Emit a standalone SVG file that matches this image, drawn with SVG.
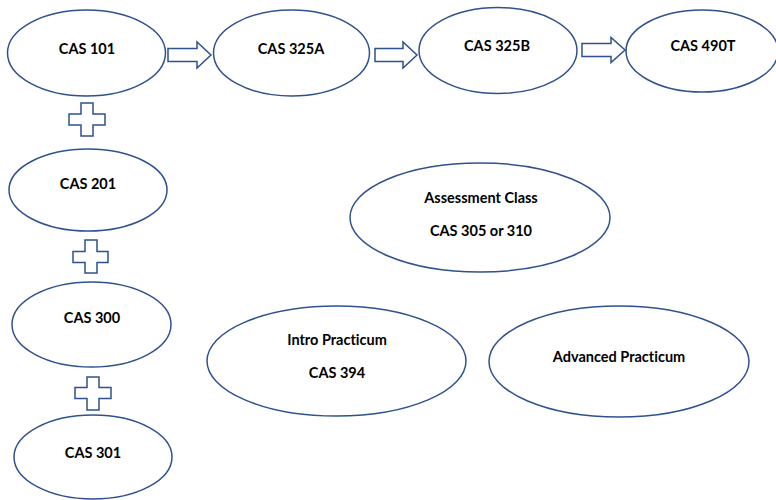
<svg xmlns="http://www.w3.org/2000/svg" width="776" height="500" viewBox="0 0 776 500">
<style>
.n{fill:#fff;stroke:#2F528F;stroke-width:1.5}
.c{fill:#fff;stroke:#2F528F;stroke-width:1.5;stroke-linejoin:miter}
text{font-family:Lato,"Liberation Sans",sans-serif;font-weight:bold;font-size:14.5px;fill:#000;text-anchor:middle;dominant-baseline:central;font-variant-ligatures:none}
</style>
<rect width="776" height="500" fill="#fff"/>
<g id="cas101"><ellipse class="n" cx="86.5" cy="53" rx="79" ry="43"/><text x="87" y="48">CAS 101</text></g>
<g id="cas325a"><ellipse class="n" cx="291.5" cy="53" rx="78" ry="43"/><text x="291" y="48">CAS 325A</text></g>
<g id="cas325b"><ellipse class="n" cx="498" cy="50.5" rx="79" ry="43"/><text x="497" y="45">CAS 325B</text></g>
<g id="cas490t"><ellipse class="n" cx="702" cy="51" rx="76" ry="41"/><text x="703" y="45">CAS 490T</text></g>
<g id="cas201"><ellipse class="n" cx="88" cy="190" rx="79" ry="41"/><text x="88" y="183">CAS 201</text></g>
<g id="cas300"><ellipse class="n" cx="91.5" cy="324.5" rx="79.5" ry="42.5"/><text x="92" y="317">CAS 300</text></g>
<g id="cas301"><ellipse class="n" cx="93" cy="457" rx="79" ry="42"/><text x="93" y="452">CAS 301</text></g>
<g id="assessment"><ellipse class="n" cx="480" cy="217.5" rx="130" ry="54.5"/><text x="481" y="197">Assessment Class</text><text x="481" y="230">CAS 305 or 310</text></g>
<g id="intro"><ellipse class="n" cx="336.5" cy="361" rx="129.5" ry="55"/><text x="337" y="339">Intro Practicum</text><text x="337" y="372">CAS 394</text></g>
<g id="advanced"><ellipse class="n" cx="619" cy="361.5" rx="130" ry="55.5"/><text x="619" y="356">Advanced Practicum</text></g>
<g id="connectors">
<path class="c" d="M168 48.5H197V42L211 55L197 68V61.5H168Z"/>
<path class="c" d="M375 48.5H403V42L417 55L403 68V61.5H375Z"/>
<path class="c" d="M582 43.5H611V37.5L625 50L611 62.5V56.5H582Z"/>
<path class="c" d="M81 103H93V114H105V125H93V136H81V125H69V114H81Z"/>
<path class="c" d="M85 240H97V251.5H108V262.5H97V273H85V262.5H73V251.5H85Z"/>
<path class="c" d="M87 377H99V387.5H111V398.5H99V410H87V398.5H75V387.5H87Z"/>
</g>
</svg>
